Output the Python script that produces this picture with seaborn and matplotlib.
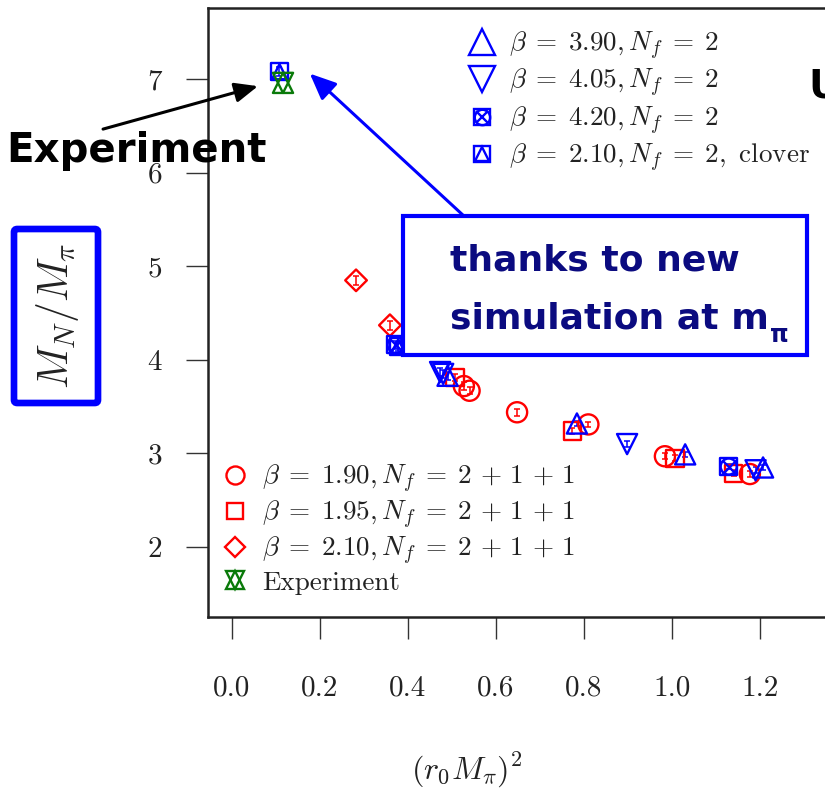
import matplotlib
matplotlib.use("Agg")
import matplotlib.pyplot as plt
import seaborn as sns
from matplotlib.lines import Line2D
from matplotlib.legend_handler import HandlerTuple
from matplotlib.patches import FancyBboxPatch

# ---------------------------------------------------------------------------
# Nucleon-to-pion mass ratio versus (r0 M_pi)^2
# ---------------------------------------------------------------------------
b190_x = [0.420, 0.527, 0.540, 0.648, 0.810, 0.984, 1.177]
b190_y = [4.22, 3.72, 3.67, 3.44, 3.31, 2.97, 2.78]
b190_e = [0.04, 0.04, 0.04, 0.04, 0.03, 0.03, 0.03]

b195_x = [0.507, 0.773, 1.007, 1.140]
b195_y = [3.81, 3.24, 2.95, 2.79]
b195_e = [0.04, 0.03, 0.03, 0.03]

b210_x = [0.282, 0.359]
b210_y = [4.85, 4.37]
b210_e = [0.05, 0.05]

b390_x = [0.490, 0.784, 1.030, 1.207]
b390_y = [3.83, 3.32, 2.99, 2.85]
b390_e = [0.04, 0.03, 0.03, 0.03]

b405_x = [0.473, 0.480, 0.898, 1.190]
b405_y = [3.87, 3.85, 3.10, 2.82]
b405_e = [0.04, 0.04, 0.03, 0.03]

b420_x = [0.372, 1.129]
b420_y = [4.16, 2.86]
b420_e = [0.04, 0.03]

clover_x = [0.108, 0.378]
clover_y = [7.08, 4.14]
clover_e = [0.05, 0.04]

exp_x = [0.116]
exp_y = [6.96]

xticks = [0.0, 0.2, 0.4, 0.6, 0.8, 1.0, 1.2]
xtick_labels = ["0.0", "0.2", "0.4", "0.6", "0.8", "1.0", "1.2"]
yticks = [2, 3, 4, 5, 6, 7]
ytick_labels = ["2", "3", "4", "5", "6", "7"]

labels_nf2 = [r"$\beta\;=\;3.90, N_f\;=\;2$",
              r"$\beta\;=\;4.05, N_f\;=\;2$",
              r"$\beta\;=\;4.20, N_f\;=\;2$",
              r"$\beta\;=\;2.10, N_f\;=\;2,\ \mathrm{clover}$"]
labels_nf4 = [r"$\beta\;=\;1.90, N_f\;=\;2\,+\,1\,+\,1$",
              r"$\beta\;=\;1.95, N_f\;=\;2\,+\,1\,+\,1$",
              r"$\beta\;=\;2.10, N_f\;=\;2\,+\,1\,+\,1$",
              "Experiment"]

RED = "#ff0000"
BLUE = "#0000ff"
GREEN = "#0a7a0a"
NAVY = "#0b0b80"

sns.set_style("ticks")
plt.rcParams["font.family"] = ["cmr10", "DejaVu Sans"]
plt.rcParams["mathtext.fontset"] = "cm"
plt.rcParams["axes.formatter.use_mathtext"] = True

fig = plt.figure(figsize=(8.25, 7.94), dpi=100)
ax = fig.add_axes([0.2521, 0.2229, 0.8024, 0.767])
ax.set_xlim(-0.0545, 1.45)
ax.set_ylim(1.252, 7.76)

MS = 14.5
MEW = 1.7


def points(x, y, marker, color, size=MS, filled_marker=True, z=3):
    if filled_marker:
        sns.scatterplot(x=x, y=y, marker=marker, s=size ** 2, facecolors="none",
                        edgecolor=color, linewidth=MEW, ax=ax, zorder=z, legend=False)
    else:
        sns.scatterplot(x=x, y=y, marker=marker, s=size ** 2, color=color,
                        linewidth=MEW, ax=ax, zorder=z, legend=False)


def errs(x, y, e, color):
    ax.errorbar(x, y, yerr=e, fmt="none", ecolor=color, elinewidth=1.1,
                capsize=2.5, capthick=1.1, zorder=2)


# N_f = 2+1+1 ensembles
errs(b190_x, b190_y, b190_e, RED)
points(b190_x, b190_y, "o", RED)
errs(b195_x, b195_y, b195_e, RED)
points(b195_x, b195_y, "s", RED, size=MS * 0.85)
errs(b210_x, b210_y, b210_e, RED)
points(b210_x, b210_y, "D", RED, size=MS * 0.76)

# N_f = 2 ensembles
errs(b390_x, b390_y, b390_e, BLUE)
points(b390_x, b390_y, "^", BLUE, z=4)
errs(b405_x, b405_y, b405_e, BLUE)
points(b405_x, b405_y, "v", BLUE, z=4)
errs(b420_x, b420_y, b420_e, BLUE)
points(b420_x, b420_y, "s", BLUE, size=MS * 0.85, z=4)
points(b420_x, b420_y, "o", BLUE, size=MS * 0.8, z=4)
points(b420_x, b420_y, "x", BLUE, size=MS * 0.7, filled_marker=False, z=4)
errs(clover_x, clover_y, clover_e, BLUE)
points(clover_x, clover_y, "s", BLUE, size=MS * 0.85, z=4)
points(clover_x, clover_y, "^", BLUE, size=MS * 0.75, z=4)

# physical point
points(exp_x, exp_y, "^", GREEN, z=5)
points(exp_x, exp_y, "v", GREEN, z=5)

# axes styling
ax.set_xticks(xticks)
ax.set_xticklabels(xtick_labels)
ax.set_yticks(yticks)
ax.set_yticklabels(ytick_labels)
ax.tick_params(axis="both", direction="out", length=16, width=1.0,
               color="#333333", labelsize=21, labelcolor="#222222")
ax.tick_params(axis="x", pad=26)
ax.tick_params(axis="y", pad=17)
for sp in ax.spines.values():
    sp.set_linewidth(1.8)
    sp.set_color("#222222")

ax.set_xlabel(r"$(r_0 M_\pi)^2$", fontsize=23, color="#222222", va="center")
ax.xaxis.set_label_coords(467 / 825, 1 - 770 / 794, transform=fig.transFigure)
ax.set_ylabel(r"$M_N/M_\pi$", fontsize=30, color="#222222", va="center")
ax.yaxis.set_label_coords(58 / 825, 1 - 316 / 794, transform=fig.transFigure)

# frame around the y label
fig.patches.append(FancyBboxPatch((14 / 825, 1 - 403 / 794), 84 / 825, 174 / 794,
                                  boxstyle="round,pad=0,rounding_size=0.004",
                                  transform=fig.transFigure, fc="none",
                                  ec=BLUE, lw=4.8, zorder=10))


def mk(marker, color, ms, filled=True):
    if filled:
        return Line2D([], [], ls="none", marker=marker, ms=ms, mfc="none",
                      mec=color, mew=MEW)
    return Line2D([], [], ls="none", marker=marker, ms=ms, color=color, mew=MEW)


L1 = 18.5
handles_nf2 = [
    mk("^", BLUE, L1),
    mk("v", BLUE, L1),
    (mk("s", BLUE, L1 * 0.6), mk("o", BLUE, L1 * 0.6), mk("x", BLUE, L1 * 0.5, False)),
    (mk("s", BLUE, L1 * 0.6), mk("^", BLUE, L1 * 0.55)),
]
L2 = 13
handles_nf4 = [
    mk("o", RED, L2),
    mk("s", RED, L2 * 0.85),
    mk("D", RED, L2 * 0.75),
    (mk("^", GREEN, L2 * 1.05), mk("v", GREEN, L2 * 1.05)),
]

LEG_FS = 19.5
leg1 = ax.legend(handles_nf2, labels_nf2, loc="upper left",
                 bbox_to_anchor=(466 / 825, 1 - 30 / 794),
                 bbox_transform=fig.transFigure, frameon=False,
                 fontsize=LEG_FS, handlelength=1.2, handletextpad=0.37,
                 labelspacing=0.19, borderpad=0, borderaxespad=0,
                 handler_map={tuple: HandlerTuple(ndivide=1)})
for t in leg1.get_texts():
    t.set_color("#222222")
ax.add_artist(leg1)
leg2 = ax.legend(handles_nf4, labels_nf4, loc="upper left",
                 bbox_to_anchor=(219 / 825, 1 - 463 / 794),
                 bbox_transform=fig.transFigure, frameon=False,
                 fontsize=LEG_FS, handlelength=1.2, handletextpad=0.4,
                 labelspacing=0.14, borderpad=0, borderaxespad=0,
                 handler_map={tuple: HandlerTuple(ndivide=1)})
for t in leg2.get_texts():
    t.set_color("#222222")

# callouts
ax.annotate("", xy=(0.059, 6.925), xytext=(-0.293, 6.466),
            arrowprops=dict(arrowstyle="-|>,head_length=1.4,head_width=0.6",
                            color="black", lw=2.2, shrinkA=0, shrinkB=0),
            annotation_clip=False)
ax.text(-0.513, 6.113, "Experiment", fontsize=29, fontweight="bold",
        family="DejaVu Sans", color="black", ha="left", va="baseline",
        clip_on=False)

ax.add_patch(FancyBboxPatch((0.389, 4.051), 0.918, 1.485,
                            boxstyle="square,pad=0", fc="white", ec=BLUE,
                            lw=3.0, zorder=6))
ax.annotate("", xy=(0.177, 7.059), xytext=(0.525, 5.547),
            arrowprops=dict(arrowstyle="-|>,head_length=1.6,head_width=0.7",
                            color=BLUE, lw=2.2, shrinkA=0, shrinkB=0),
            zorder=6)
ax.text(0.495, 4.959, "thanks to new", fontsize=26, fontweight="bold",
        family="DejaVu Sans", color=NAVY, ha="left", va="baseline", zorder=7)
t2 = ax.text(0.495, 4.340, "simulation at m", fontsize=26, fontweight="bold",
             family="DejaVu Sans", color=NAVY, ha="left", va="baseline", zorder=7)
ax.annotate("π", xy=(1, 0), xycoords=t2, xytext=(1, -5),
            textcoords="offset points", fontsize=17, fontweight="bold",
            family="DejaVu Sans", color=NAVY, ha="left", va="baseline", zorder=7)

ax.text(1.309, 6.80, "U", fontsize=28, fontweight="bold", family="DejaVu Sans",
        color="black", ha="left", va="baseline", clip_on=False)

fig.savefig("out.png", dpi=100)
